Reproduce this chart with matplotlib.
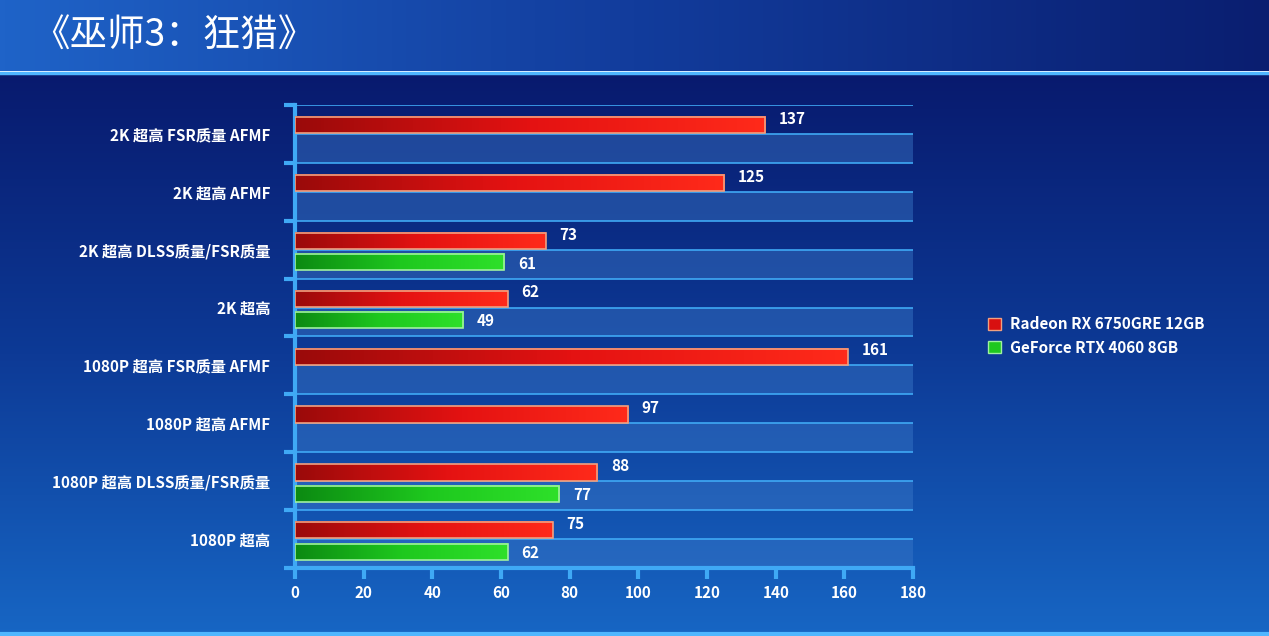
import numpy as np
import matplotlib
matplotlib.use("Agg")
import matplotlib.pyplot as plt
from matplotlib.colors import LinearSegmentedColormap
from matplotlib.patches import Rectangle, Patch

plt.rcParams["font.family"] = ["Noto Sans CJK SC"]

title = "《巫师3：狂猎》"
categories = ["2K 超高 FSR质量 AFMF", "2K 超高 AFMF", "2K 超高 DLSS质量/FSR质量", "2K 超高",
              "1080P 超高 FSR质量 AFMF", "1080P 超高 AFMF", "1080P 超高 DLSS质量/FSR质量", "1080P 超高"]
series_names = ["Radeon RX 6750GRE 12GB", "GeForce RTX 4060 8GB"]
radeon = [137, 125, 73, 62, 161, 97, 88, 75]
geforce = [None, None, 61, 49, None, None, 77, 62]
xticks = [0, 20, 40, 60, 80, 100, 120, 140, 160, 180]

fig = plt.figure(figsize=(12.69, 6.36), dpi=100)

# background
bg = fig.add_axes([0, 0, 1, 1], zorder=-10)
bg.set_axis_off()
bg.set_xlim(0, 1); bg.set_ylim(0, 1)
body = LinearSegmentedColormap.from_list("b", ["#1766c4", "#0d3a96", "#081a6e"])
grad = np.linspace(0, 1, 256).reshape(-1, 1)
bg.imshow(grad, extent=(0, 1, 0, 0.885), cmap=body, aspect="auto", origin="lower")
head = LinearSegmentedColormap.from_list("h", ["#1f63c8", "#123c9c", "#0a1e70"])
bg.imshow(np.linspace(0, 1, 256).reshape(1, -1), extent=(0, 1, 0.888, 1), cmap=head, aspect="auto")
bg.axhline(0.886, color="#4fb6ff", lw=2.5)
bg.axhline(0.003, color="#4fb6ff", lw=3)
bg.text(0.025, 0.945, title, color="white", fontsize=27, va="center", ha="left")

ax = fig.add_axes([0.2325, 0.107, 0.487, 0.728])
ax.set_facecolor("none")
n = len(categories)
for i in range(n):
    ax.add_patch(Rectangle((0, i + 0.5), 180, 0.5, color="#3a78c8", alpha=0.45, lw=0, zorder=0))
for y in np.arange(0, n + 0.01, 0.5):
    ax.axhline(y, color="#3fa9f5", lw=1.2, zorder=1)

red_cm = LinearSegmentedColormap.from_list("r", ["#9a0a0a", "#e41212", "#ff2a1a"])
grn_cm = LinearSegmentedColormap.from_list("g", ["#0c8a12", "#1ec81e", "#2ee02a"])
h = 0.28
for i in range(n):
    for val, off, cm, edge in [(radeon[i], 0.35, red_cm, "#f0a080"), (geforce[i], 0.72, grn_cm, "#a0f0a0")]:
        if val is None:
            continue
        y0, y1 = i + off - h / 2, i + off + h / 2
        ax.imshow(np.linspace(0, 1, 128).reshape(1, -1), extent=(0, val, y1, y0), cmap=cm,
                  aspect="auto", zorder=3)
        ax.add_patch(Rectangle((0, y0), val, h, fill=False, ec=edge, lw=1.2, zorder=4))
        ax.text(val + 4, y0 + 0.03 if off < 0.5 else i + off + 0.02, str(val), color="white",
                fontsize=11, fontweight="bold", va="center", ha="left", zorder=5)
ax.set_xlim(0, 180)
ax.set_ylim(n, 0)

ax.set_yticks(np.arange(n + 1))
ax.set_yticklabels([])
ax.set_yticks(np.arange(n) + 0.5, minor=True)
ax.set_yticklabels(categories, minor=True, color="white", fontsize=11, fontweight="bold")
ax.tick_params(axis="y", which="minor", length=0, pad=18)
ax.tick_params(axis="y", which="major", length=8, width=3, color="#3fa9f5")
ax.set_xticks(xticks)
ax.set_xticklabels([str(t) for t in xticks], color="white", fontsize=11, fontweight="bold")
ax.tick_params(axis="x", length=8, width=3, color="#3fa9f5", direction="out", pad=4)
for s in ["top", "right"]:
    ax.spines[s].set_visible(False)
ax.spines["left"].set_color("#3fa9f5"); ax.spines["left"].set_linewidth(3)
ax.spines["bottom"].set_color("#3fa9f5"); ax.spines["bottom"].set_linewidth(3)

handles = [Patch(facecolor="#d81010", edgecolor="#f0a080"), Patch(facecolor="#1ec81e", edgecolor="#a0f0a0")]
fig.legend(handles, series_names, loc="center left", bbox_to_anchor=(0.768, 0.472), frameon=False,
           labelcolor="white", prop={"weight": "bold", "size": 11}, handlelength=0.8, handleheight=0.8,
           handletextpad=0.6, labelspacing=0.5)

fig.savefig("out.png", dpi=100)
